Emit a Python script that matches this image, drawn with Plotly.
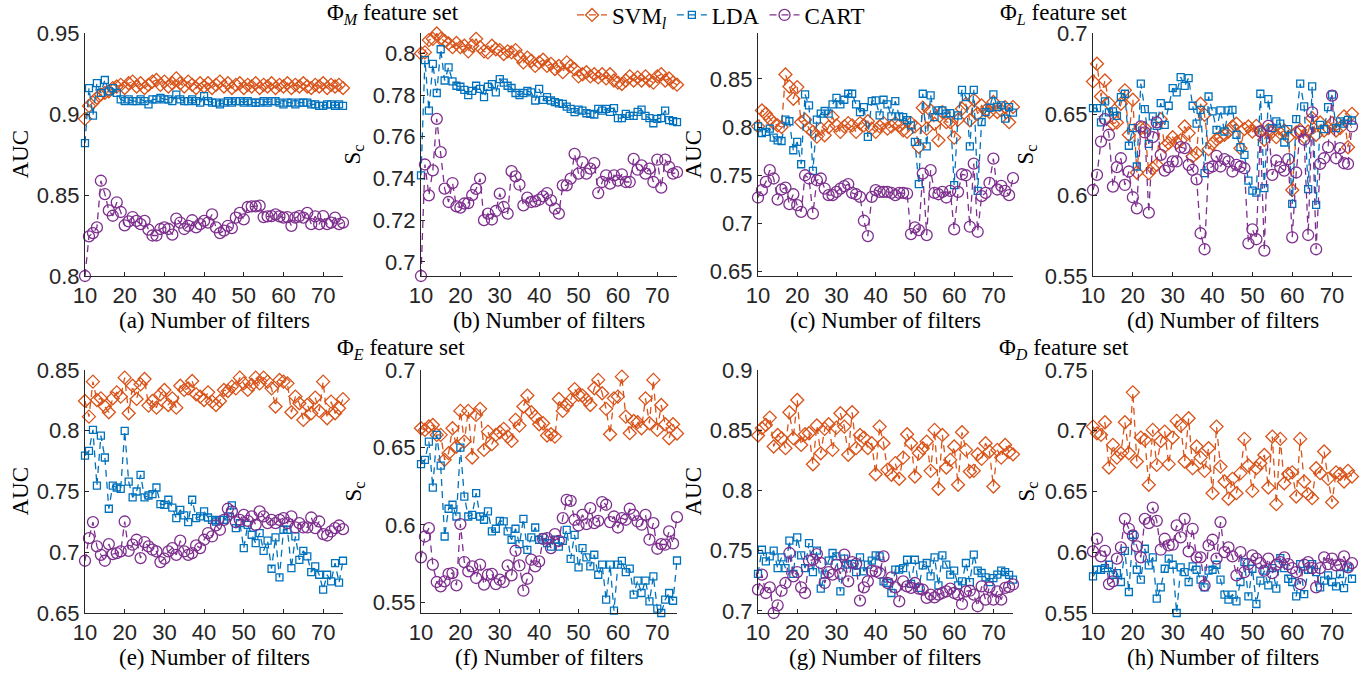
import plotly.graph_objects as go

filters = list(range(10, 76))

svm_a = [0.897,0.905,0.907,0.910,0.912,0.913,0.914,0.916,0.917,0.918,
         0.916,0.919,0.920,0.917,0.919,0.916,0.918,0.920,0.921,0.918,
         0.920,0.917,0.919,0.922,0.919,0.917,0.920,0.918,0.916,0.919,
         0.917,0.919,0.916,0.918,0.920,0.917,0.919,0.916,0.918,0.919,
         0.916,0.918,0.917,0.919,0.916,0.918,0.917,0.919,0.916,0.918,
         0.917,0.919,0.916,0.918,0.917,0.919,0.917,0.916,0.918,0.917,
         0.919,0.916,0.918,0.917,0.918,0.916]
lda_a = [0.882,0.916,0.899,0.919,0.913,0.921,0.914,0.916,0.913,0.909,
         0.908,0.909,0.908,0.908,0.909,0.908,0.906,0.909,0.909,0.910,
         0.909,0.909,0.908,0.912,0.909,0.908,0.908,0.909,0.908,0.907,
         0.911,0.908,0.907,0.907,0.906,0.907,0.908,0.907,0.908,0.908,
         0.907,0.908,0.907,0.907,0.907,0.908,0.907,0.908,0.908,0.907,
         0.906,0.907,0.907,0.906,0.907,0.907,0.907,0.906,0.906,0.905,
         0.905,0.906,0.906,0.905,0.906,0.905]
cart_a = [0.800,0.8245,0.8265,0.830,0.8588,0.8506,0.8405,0.8372,0.8455,0.8395,
          0.8313,0.8337,0.8364,0.834,0.832,0.834,0.8286,0.825,0.825,0.829,
          0.830,0.829,0.8255,0.8354,0.833,0.829,0.831,0.8344,0.830,0.832,
          0.834,0.833,0.838,0.830,0.8265,0.828,0.831,0.8296,0.836,0.839,
          0.835,0.8426,0.843,0.843,0.8434,0.8364,0.8368,0.837,0.838,0.8368,
          0.836,0.8364,0.831,0.836,0.837,0.836,0.839,0.832,0.8368,0.832,
          0.837,0.832,0.833,0.836,0.832,0.833]

svm_b = [0.800,0.8005,0.8064,0.807,0.8096,0.807,0.806,0.8048,0.803,0.805,
         0.803,0.8037,0.801,0.8037,0.807,0.803,0.801,0.8005,0.8037,0.802,
         0.8016,0.7997,0.801,0.8005,0.8016,0.7984,0.7957,0.798,0.7965,0.794,
         0.7957,0.797,0.794,0.795,0.7925,0.794,0.791,0.7957,0.794,0.7925,
         0.789,0.790,0.791,0.789,0.790,0.7885,0.790,0.788,0.790,0.787,
         0.786,0.7853,0.787,0.789,0.787,0.7885,0.787,0.789,0.787,0.786,
         0.789,0.790,0.787,0.788,0.786,0.785]
lda_b = [0.7415,0.7968,0.7726,0.795,0.781,0.802,0.787,0.7933,0.7866,0.7845,
         0.784,0.7825,0.780,0.782,0.7845,0.783,0.779,0.784,0.7853,0.7813,
         0.7877,0.786,0.7845,0.7834,0.781,0.780,0.781,0.782,0.7813,0.7774,
         0.783,0.7777,0.779,0.7774,0.7766,0.776,0.7758,0.7745,0.7734,0.7718,
         0.773,0.7726,0.7713,0.771,0.7707,0.7734,0.7726,0.7734,0.772,0.7738,
         0.769,0.769,0.771,0.770,0.770,0.772,0.773,0.770,0.769,0.7665,
         0.7686,0.769,0.7726,0.768,0.7675,0.767]
cart_b = [0.6932,0.7467,0.7319,0.7439,0.7686,0.7526,0.7351,0.7287,0.7378,0.7266,
          0.726,0.728,0.7282,0.732,0.735,0.7399,0.720,0.7231,0.7203,0.7244,
          0.7327,0.7263,0.7231,0.7435,0.741,0.737,0.7271,0.7308,0.7287,0.729,
          0.7298,0.7314,0.733,0.7295,0.7255,0.7231,0.7367,0.7367,0.7399,0.7518,
          0.7423,0.7478,0.7423,0.7447,0.7474,0.733,0.7383,0.7415,0.7375,0.7415,
          0.739,0.742,0.7383,0.7383,0.7494,0.7442,0.7463,0.7423,0.7447,0.7383,
          0.749,0.7356,0.749,0.7455,0.7423,0.743]

svm_c = [0.8007,0.8172,0.8138,0.8086,0.804,0.8017,0.800,0.8545,0.842,0.8293,
         0.8414,0.805,0.8076,0.7983,0.795,0.790,0.7983,0.7914,0.800,0.8103,
         0.8017,0.795,0.8007,0.804,0.8017,0.795,0.804,0.8017,0.806,0.7983,
         0.795,0.8007,0.804,0.7983,0.8007,0.804,0.8017,0.7966,0.795,0.804,
         0.8007,0.7793,0.820,0.7983,0.8172,0.8034,0.7862,0.8155,0.805,0.805,
         0.789,0.8076,0.819,0.824,0.807,0.8283,0.8138,0.8224,0.8172,0.8155,
         0.8259,0.8155,0.8172,0.8207,0.805,0.8207]
lda_c = [0.8007,0.7938,0.795,0.7983,0.789,0.7862,0.7855,0.8076,0.806,0.7759,
         0.7845,0.7614,0.8338,0.8224,0.7545,0.8076,0.8138,0.8166,0.8138,0.8234,
         0.8303,0.8234,0.8283,0.8345,0.8345,0.8234,0.8155,0.8207,0.7897,0.8269,
         0.8276,0.8121,0.8283,0.8234,0.811,0.8269,0.811,0.8103,0.807,0.8017,
         0.7845,0.7407,0.8345,0.780,0.8328,0.8103,0.8172,0.8172,0.8138,0.8145,
         0.7397,0.8121,0.8386,0.831,0.780,0.8386,0.7338,0.8052,0.8155,0.820,
         0.8338,0.8207,0.8224,0.8086,0.8207,0.815]
cart_c = [0.7269,0.7345,0.7431,0.7552,0.7466,0.7248,0.7352,0.7372,0.720,0.7303,
          0.719,0.7121,0.750,0.7466,0.7103,0.7448,0.7466,0.7362,0.7293,0.7293,
          0.7328,0.7362,0.7386,0.7407,0.7317,0.7303,0.7276,0.7028,0.6869,0.7276,
          0.7345,0.7328,0.7328,0.7328,0.7317,0.7293,0.7317,0.7317,0.731,0.689,
          0.6959,0.6931,0.7517,0.6879,0.7552,0.7317,0.7303,0.7328,0.7269,0.7338,
          0.6938,0.7328,0.751,0.750,0.6966,0.7621,0.6914,0.7283,0.7317,0.742,
          0.7672,0.7352,0.739,0.7338,0.7293,0.747]

svm_d = [0.6701,0.681,0.6608,0.6707,0.6567,0.644,0.6448,0.6563,0.6646,0.6372,
         0.6588,0.6139,0.6413,0.6413,0.6135,0.6165,0.6186,0.6468,0.630,0.632,
         0.6357,0.6324,0.6337,0.6423,0.6382,0.6238,0.6258,0.6563,0.6495,0.6283,
         0.6316,0.6345,0.6361,0.6372,0.6392,0.6423,0.644,0.6289,0.6407,0.6423,
         0.6392,0.6427,0.6392,0.6341,0.6402,0.6392,0.6357,0.6382,0.6398,0.6357,
         0.6031,0.6386,0.6402,0.6357,0.6392,0.6475,0.6372,0.6448,0.6398,0.6413,
         0.6444,0.6398,0.6413,0.6485,0.6295,0.6501]
lda_d = [0.6536,0.6536,0.6448,0.6578,0.651,0.6516,0.6489,0.6604,0.6625,0.6304,
         0.6413,0.6176,0.6687,0.653,0.6316,0.6485,0.6427,0.6567,0.6433,0.6551,
         0.666,0.6633,0.6728,0.6674,0.6722,0.6551,0.644,0.6526,0.6135,0.6608,
         0.6516,0.6402,0.6522,0.6392,0.6522,0.6526,0.6372,0.6295,0.6248,0.6089,
         0.6027,0.6015,0.6625,0.6042,0.6592,0.6413,0.6454,0.644,0.6324,0.6407,
         0.5945,0.6468,0.6687,0.6547,0.6036,0.667,0.5939,0.6433,0.6407,0.6543,
         0.6619,0.6413,0.6454,0.644,0.6464,0.646]
cart_d = [0.6031,0.6124,0.633,0.6468,0.6372,0.6052,0.6172,0.6227,0.6062,0.6145,
          0.5986,0.5918,0.6423,0.6386,0.5891,0.6357,0.6448,0.6248,0.6151,0.6172,
          0.6207,0.6207,0.6295,0.6289,0.6186,0.6155,0.6097,0.5764,0.5665,0.6165,
          0.6176,0.6242,0.6176,0.6221,0.6207,0.6145,0.6186,0.6176,0.6165,0.5702,
          0.5788,0.5727,0.6392,0.5657,0.6427,0.6124,0.6213,0.6172,0.6151,0.6221,
          0.5739,0.6139,0.6392,0.6341,0.5753,0.651,0.5665,0.6192,0.6227,0.6295,
          0.6613,0.6227,0.6289,0.6196,0.6192,0.6423]

svm_e = [0.8245,0.8116,0.8404,0.8253,0.8267,0.8199,0.8152,0.8267,0.8316,0.8281,
         0.8437,0.8144,0.8371,0.8262,0.8382,0.8426,0.8207,0.8245,0.819,0.830,
         0.8336,0.8212,0.8267,0.819,0.8371,0.8336,0.8349,0.841,0.830,0.8281,
         0.8253,0.8316,0.824,0.8212,0.8245,0.8336,0.8327,0.8363,0.8349,0.8437,
         0.839,0.8336,0.8377,0.8437,0.839,0.8437,0.8404,0.8349,0.8199,0.8418,
         0.8404,0.839,0.8152,0.8281,0.8226,0.8089,0.8212,0.8144,0.8273,0.8163,
         0.8404,0.8103,0.824,0.8144,0.8185,0.826]
lda_e = [0.7796,0.7834,0.8007,0.7549,0.796,0.778,0.7358,0.7549,0.7533,0.7522,
         0.7999,0.7582,0.7451,0.750,0.7637,0.7451,0.7467,0.7478,0.7533,0.7396,
         0.739,0.7432,0.7368,0.7281,0.7349,0.7303,0.7248,0.7432,0.7281,0.7295,
         0.7336,0.7286,0.7267,0.7253,0.7267,0.7267,0.7295,0.7385,0.7199,0.724,
         0.7034,0.7226,0.7144,0.7075,0.7158,0.7012,0.7095,0.6864,0.7122,0.6793,
         0.7185,0.7185,0.687,0.713,0.6938,0.7012,0.6966,0.6837,0.6884,0.6815,
         0.6692,0.6815,0.676,0.6911,0.675,0.693]
cart_e = [0.693,0.7116,0.7248,0.7048,0.6979,0.693,0.7067,0.6985,0.6993,0.7007,
          0.7253,0.7012,0.7062,0.7103,0.6952,0.7084,0.7048,0.7021,0.7007,0.6919,
          0.6947,0.7007,0.7034,0.6979,0.7095,0.7007,0.6979,0.6993,0.7056,0.7034,
          0.7103,0.7158,0.713,0.7221,0.7185,0.7267,0.7358,0.7336,0.7248,0.7267,
          0.7308,0.7259,0.7295,0.7226,0.7336,0.7295,0.724,0.7267,0.724,0.7267,
          0.7281,0.724,0.7295,0.7204,0.724,0.7204,0.7204,0.7286,0.7199,0.7253,
          0.715,0.7138,0.7171,0.7199,0.722,0.719]

svm_f = [0.6624,0.6613,0.6635,0.6645,0.6581,0.6581,0.642,0.6463,0.6624,0.6506,
         0.6736,0.6538,0.6736,0.6435,0.671,0.6749,0.6484,0.6602,0.6521,0.6581,
         0.6598,0.662,0.657,0.6542,0.6678,0.6641,0.6764,0.6835,0.6727,0.6699,
         0.665,0.6656,0.6577,0.6585,0.657,0.6813,0.6736,0.6774,0.6807,0.6877,
         0.6839,0.6835,0.6807,0.6774,0.6882,0.6936,0.685,0.6749,0.6585,0.6817,
         0.6828,0.6957,0.6699,0.6592,0.6671,0.6663,0.6624,0.6817,0.6656,0.6936,
         0.6613,0.6774,0.665,0.6559,0.665,0.659]
lda_f = [0.6392,0.642,0.6538,0.6241,0.6581,0.6383,0.5925,0.6104,0.613,0.6054,
         0.6499,0.6183,0.6054,0.6065,0.6205,0.6054,0.6033,0.6087,0.5958,0.5975,
         0.6026,0.6022,0.5958,0.5904,0.5975,0.5876,0.6039,0.5839,0.5919,0.5983,
         0.5904,0.5919,0.5882,0.586,0.5904,0.586,0.5897,0.5968,0.5781,0.5936,
         0.5726,0.585,0.579,0.5732,0.5807,0.5678,0.5743,0.5517,0.5743,0.5446,
         0.5743,0.5768,0.5695,0.5717,0.5549,0.564,0.556,0.564,0.5506,0.5668,
         0.5459,0.5431,0.5517,0.556,0.551,0.577]
cart_f = [0.579,0.5925,0.5979,0.5743,0.5631,0.5603,0.5635,0.5683,0.5689,0.561,
          0.6005,0.576,0.570,0.5732,0.5657,0.5743,0.5614,0.5678,0.5683,0.5618,
          0.5646,0.5631,0.5738,0.5674,0.5833,0.5738,0.5575,0.5652,0.5775,0.5732,
          0.5764,0.591,0.5915,0.585,0.594,0.5897,0.6044,0.6162,0.6155,0.6033,
          0.5996,0.6065,0.6005,0.6108,0.6011,0.6026,0.6147,0.613,0.6018,0.6054,
          0.5983,0.6044,0.6033,0.6104,0.6065,0.6022,0.6001,0.6065,0.5904,0.6011,
          0.5846,0.5876,0.5872,0.5958,0.588,0.605]

svm_g = [0.8456,0.8517,0.8544,0.8605,0.8365,0.8461,0.8434,0.8351,0.8649,0.8434,
         0.8751,0.8378,0.8467,0.8475,0.8218,0.8539,0.8309,0.8511,0.855,0.8337,
         0.8522,0.8641,0.853,0.8296,0.8649,0.8351,0.8461,0.8439,0.8351,0.8392,
         0.8135,0.853,0.8392,0.8171,0.813,0.8227,0.8097,0.8273,0.8467,0.8392,
         0.8116,0.8309,0.8351,0.8406,0.8163,0.8503,0.8014,0.8461,0.8191,0.8254,
         0.8365,0.8047,0.8483,0.8337,0.8157,0.8163,0.8301,0.8262,0.8392,0.8323,
         0.8033,0.8337,0.8273,0.8378,0.832,0.830]
lda_g = [0.7307,0.7508,0.7412,0.7453,0.750,0.7356,0.7445,0.7356,0.7583,0.7307,
         0.761,0.7461,0.7356,0.7563,0.7323,0.750,0.7185,0.7301,0.7417,0.7481,
         0.7453,0.7163,0.7434,0.7384,0.739,0.7323,0.7445,0.7329,0.7384,0.7417,
         0.7461,0.7453,0.7246,0.7232,0.7149,0.7343,0.7343,0.7356,0.7425,0.7224,
         0.7425,0.7191,0.7378,0.7398,0.7287,0.7445,0.7213,0.7461,0.7384,0.7301,
         0.7334,0.7213,0.7246,0.7398,0.724,0.7467,0.7334,0.7315,0.7279,0.724,
         0.7273,0.7301,0.7334,0.7323,0.730,0.726]
cart_g = [0.7177,0.7301,0.7149,0.7196,0.6983,0.7047,0.7168,0.7232,0.7481,0.7287,
          0.7323,0.7196,0.7149,0.7417,0.7425,0.7472,0.7398,0.7232,0.7323,0.7301,
          0.7384,0.7307,0.7467,0.7246,0.7406,0.739,0.7086,0.7196,0.7246,0.7334,
          0.7329,0.7315,0.7453,0.7232,0.7279,0.7196,0.708,0.7246,0.7204,0.7191,
          0.7232,0.7185,0.7177,0.7108,0.7135,0.7113,0.7135,0.7149,0.7163,0.7185,
          0.7149,0.7135,0.7058,0.7163,0.7168,0.7135,0.7039,0.7204,0.7094,0.7196,
          0.7094,0.7163,0.7094,0.7191,0.720,0.722]

svm_h = [0.7034,0.6979,0.6966,0.707,0.6697,0.6884,0.6779,0.6815,0.707,0.6815,
         0.7316,0.6747,0.6944,0.6925,0.6555,0.7007,0.6719,0.6916,0.6993,0.6725,
         0.6944,0.7081,0.7042,0.6747,0.7103,0.6692,0.687,0.6779,0.667,0.6856,
         0.6486,0.7034,0.6705,0.6582,0.644,0.6604,0.6486,0.6651,0.6933,0.6714,
         0.6505,0.6692,0.6733,0.6801,0.6533,0.6952,0.6396,0.6933,0.6568,0.6644,
         0.6658,0.6459,0.6933,0.6582,0.6478,0.6445,0.6692,0.6651,0.6829,0.6604,
         0.6412,0.6658,0.6644,0.6582,0.667,0.6623]
lda_h = [0.5801,0.5856,0.5856,0.587,0.5897,0.5815,0.5829,0.5755,0.6012,0.5673,
         0.6144,0.5856,0.5774,0.6029,0.5892,0.5958,0.5618,0.5711,0.5864,0.5947,
         0.5897,0.550,0.5875,0.5837,0.5755,0.5884,0.5856,0.5774,0.5711,0.5848,
         0.5856,0.5897,0.5774,0.5651,0.561,0.5651,0.5596,0.5755,0.5919,0.5637,
         0.5864,0.5574,0.5766,0.5848,0.5727,0.587,0.570,0.5952,0.587,0.5782,
         0.5755,0.5637,0.5903,0.5656,0.5856,0.5903,0.5837,0.5711,0.5766,0.581,
         0.5755,0.5719,0.5821,0.5705,0.5875,0.5782]
cart_h = [0.6007,0.6111,0.5966,0.6012,0.5738,0.576,0.5947,0.604,0.6275,0.6193,
          0.6138,0.6048,0.5958,0.6275,0.624,0.6368,0.6259,0.6021,0.6111,0.6056,
          0.6062,0.6221,0.6122,0.6275,0.6007,0.6193,0.5958,0.5958,0.5727,0.6056,
          0.6103,0.5947,0.6248,0.6001,0.604,0.5966,0.581,0.6001,0.5837,0.5903,
          0.5974,0.5947,0.5911,0.5848,0.5947,0.5829,0.5897,0.5919,0.5958,0.5903,
          0.587,0.5837,0.5738,0.5897,0.5919,0.587,0.5711,0.587,0.5958,0.5903,
          0.5947,0.5892,0.5897,0.5966,0.5875,0.5911]

panel_letters = ["a", "b", "c", "d", "e", "f", "g", "h"]
panel_ylabels = ["AUC", "S<sub>c</sub>", "AUC", "S<sub>c</sub>",
                 "AUC", "S<sub>c</sub>", "AUC", "S<sub>c</sub>"]
panel_ranges = [[0.8, 0.95], [0.6932, 0.8098], [0.6455, 0.8975], [0.55, 0.7],
                [0.65, 0.85], [0.5431, 0.7], [0.6983, 0.9], [0.55, 0.75]]
panel_ticks = [[0.8, 0.85, 0.9, 0.95], [0.7, 0.72, 0.74, 0.76, 0.78, 0.8],
               [0.65, 0.7, 0.75, 0.8, 0.85], [0.55, 0.6, 0.65, 0.7],
               [0.65, 0.7, 0.75, 0.8, 0.85], [0.55, 0.6, 0.65, 0.7],
               [0.7, 0.75, 0.8, 0.85, 0.9], [0.55, 0.6, 0.65, 0.7, 0.75]]
series_names = ["SVM<sub><i>l</i></sub>", "LDA", "CART"]
panel_data = [
    [svm_a, lda_a, cart_a], [svm_b, lda_b, cart_b],
    [svm_c, lda_c, cart_c], [svm_d, lda_d, cart_d],
    [svm_e, lda_e, cart_e], [svm_f, lda_f, cart_f],
    [svm_g, lda_g, cart_g], [svm_h, lda_h, cart_h],
]
feature_titles = ["Φ<sub><i>M</i></sub> feature set", "Φ<sub><i>L</i></sub> feature set",
                  "Φ<sub><i>E</i></sub> feature set", "Φ<sub><i>D</i></sub> feature set"]
x_ticks = [10, 20, 30, 40, 50, 60, 70]

W, H = 1367, 673
colors = ["#D95319", "#0072BD", "#7E2F8E"]
symbols = ["diamond-open", "square-open", "circle-open"]
msizes = [10, 7, 11]
col_px = [(85, 343), (421, 677), (758, 1013), (1093, 1352)]
row_px = [(33, 276), (370, 613)]
ylab_px = [20, 354, 693, 1027]
title_pos = [(393, 14), (1063, 14), (401, 349), (1064, 349)]

axis_col = "#262626"
sans = "Liberation Sans, Arial, sans-serif"
serif = "Liberation Serif, Times New Roman, serif"

fig = go.Figure()
layout = dict(width=W, height=H, autosize=False,
              margin=dict(l=0, r=0, t=0, b=0, pad=0, autoexpand=False),
              paper_bgcolor="white", plot_bgcolor="white")
annotations = []

for i in range(8):
    r, c = divmod(i, 4)
    n = i + 1
    xa = "xaxis" if n == 1 else f"xaxis{n}"
    ya = "yaxis" if n == 1 else f"yaxis{n}"
    xref = "x" if n == 1 else f"x{n}"
    yref = "y" if n == 1 else f"y{n}"
    x0, x1 = col_px[c]
    top, bot = row_px[r]
    layout[xa] = dict(domain=[x0 / W, x1 / W], anchor=yref, range=[10, 75],
                      tickvals=x_ticks, ticktext=[str(v) for v in x_ticks],
                      showline=True, linecolor=axis_col, linewidth=1,
                      ticks="inside", ticklen=4, tickcolor=axis_col,
                      showgrid=False, zeroline=False, automargin=False,
                      tickfont=dict(family=sans, size=22, color=axis_col))
    tv = panel_ticks[i]
    layout[ya] = dict(domain=[1 - bot / H, 1 - top / H], anchor=xref,
                      range=panel_ranges[i], tickvals=tv,
                      ticktext=[f"{v:g}" for v in tv],
                      showline=True, linecolor=axis_col, linewidth=1,
                      ticks="inside", ticklen=4, tickcolor=axis_col,
                      showgrid=False, zeroline=False, automargin=False,
                      tickfont=dict(family=sans, size=22, color=axis_col))
    for k in range(3):
        fig.add_trace(go.Scatter(
            x=filters, y=panel_data[i][k], xaxis=xref, yaxis=yref,
            mode="lines+markers", name=series_names[k],
            showlegend=(i == 0), legendgroup=series_names[k], cliponaxis=False,
            line=dict(color=colors[k], width=1.3, dash="7px,5px"),
            marker=dict(symbol=symbols[k], size=msizes[k], color=colors[k],
                        line=dict(color=colors[k], width=1.3))))
    annotations.append(dict(
        text=f"({panel_letters[i]}) Number of filters", x=(x0 + x1) / 2 / W,
        y=1 - (bot + 44) / H, xref="paper", yref="paper", showarrow=False,
        xanchor="center", yanchor="middle",
        font=dict(family=serif, size=23, color="#000")))
    annotations.append(dict(
        text=panel_ylabels[i], x=ylab_px[c] / W, y=1 - (top + bot) / 2 / H,
        xref="paper", yref="paper", showarrow=False, textangle=-90,
        xanchor="center", yanchor="middle",
        font=dict(family=serif, size=23, color="#000")))

for t, (px, py) in zip(feature_titles, title_pos):
    annotations.append(dict(
        text=t, x=px / W, y=1 - py / H, xref="paper", yref="paper",
        showarrow=False, xanchor="center", yanchor="middle",
        font=dict(family=serif, size=23, color="#000")))

layout["annotations"] = annotations
layout["legend"] = dict(orientation="h", x=572 / W, y=1 - 15 / H,
                        xanchor="left", yanchor="middle",
                        font=dict(family=serif, size=23, color="#000"),
                        bgcolor="rgba(0,0,0,0)", itemwidth=30,
                        tracegroupgap=0)
fig.update_layout(**layout)
fig.write_html("out.html", config={"displayModeBar": False},
               post_script="document.body.style.margin='0px';"
                           "document.body.style.overflow='hidden';")
